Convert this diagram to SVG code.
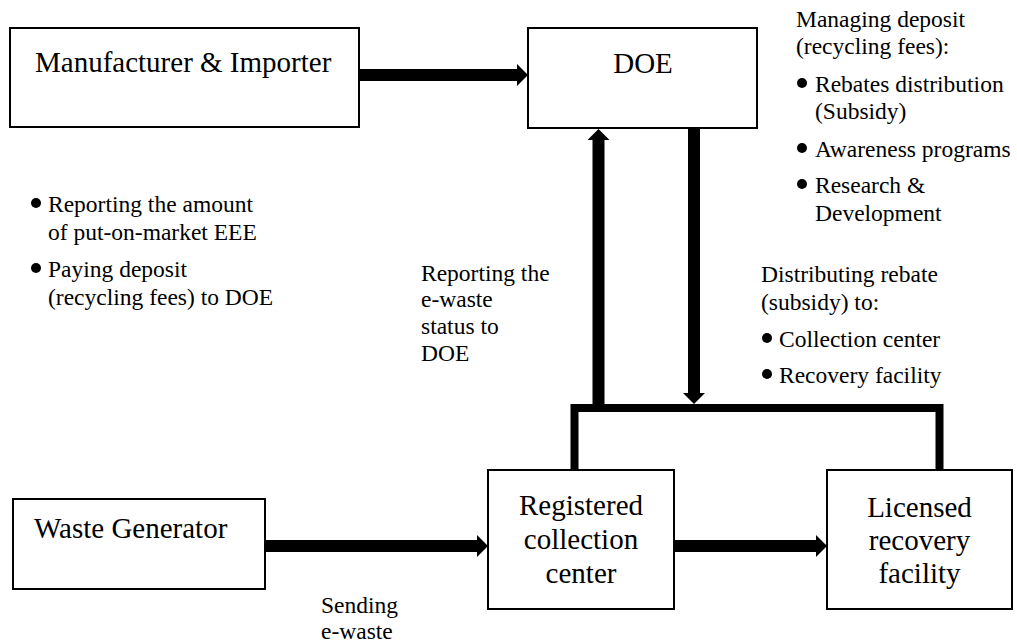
<svg xmlns="http://www.w3.org/2000/svg" width="1017" height="643" viewBox="0 0 1017 643">
<style>
.box{fill:#fff;stroke:#000;stroke-width:2}
.lbl{font-family:'Liberation Serif','DejaVu Serif',serif;font-size:29px;fill:#000}
.ann{font-family:'Liberation Serif','DejaVu Serif',serif;font-size:23.5px;fill:#000}
.arr{stroke:#000;stroke-width:12;fill:none;marker-end:url(#head)}
.ln{stroke:#000;fill:none}
.dot{fill:#000}
</style>
<defs>
<marker id="head" markerUnits="userSpaceOnUse" viewBox="0 0 11 22" refX="0" refY="11" markerWidth="11" markerHeight="22" orient="auto">
<path d="M0,0 L11,11 L0,22 Z" fill="#000"/>
</marker>
</defs>
<rect width="1017" height="643" fill="#fff"/>
<g id="connectors">
<line class="arr" x1="359" y1="75" x2="517" y2="75"/>
<line class="arr" x1="265" y1="546" x2="477" y2="546"/>
<line class="arr" x1="674" y1="546" x2="816" y2="546"/>
<line class="arr" x1="598.5" y1="408" x2="598.5" y2="140"/>
<line class="arr" x1="694" y1="129" x2="694" y2="393"/>
<path class="ln" d="M574.5,470 V408 H939.5 V470" stroke-width="8" stroke-linejoin="miter"/>
</g>
<g id="manufacturer">
<rect class="box" x="10" y="28" width="349" height="99"/>
<text class="lbl" x="35" y="72">Manufacturer &amp; Importer</text>
</g>
<g id="doe">
<rect class="box" x="528" y="28" width="229" height="100"/>
<text class="lbl" x="643" y="73" text-anchor="middle">DOE</text>
</g>
<g id="waste-generator">
<rect class="box" x="13" y="499" width="252" height="90"/>
<text class="lbl" x="34" y="538">Waste Generator</text>
</g>
<g id="collection-center">
<rect class="box" x="488" y="470" width="186" height="139"/>
<text class="lbl" x="581" y="515" text-anchor="middle">Registered</text>
<text class="lbl" x="581" y="549" text-anchor="middle">collection</text>
<text class="lbl" x="581" y="583" text-anchor="middle">center</text>
</g>
<g id="recovery-facility">
<rect class="box" x="827" y="470" width="185" height="139"/>
<text class="lbl" x="919.5" y="517" text-anchor="middle">Licensed</text>
<text class="lbl" x="919.5" y="550" text-anchor="middle">recovery</text>
<text class="lbl" x="919.5" y="583" text-anchor="middle">facility</text>
</g>
<g id="note-manufacturer">
<circle class="dot" cx="36" cy="203" r="5"/>
<text class="ann" x="48" y="212">Reporting the amount</text>
<text class="ann" x="48" y="240">of put-on-market EEE</text>
<circle class="dot" cx="36" cy="268" r="5"/>
<text class="ann" x="48" y="277">Paying deposit</text>
<text class="ann" x="48" y="305">(recycling fees) to DOE</text>
</g>
<g id="note-reporting">
<text class="ann" x="421" y="281">Reporting the</text>
<text class="ann" x="421" y="307">e-waste</text>
<text class="ann" x="421" y="334">status to</text>
<text class="ann" x="421" y="361">DOE</text>
</g>
<g id="note-doe">
<text class="ann" x="796" y="27">Managing deposit</text>
<text class="ann" x="796" y="54">(recycling fees):</text>
<circle class="dot" cx="802" cy="83" r="5"/>
<text class="ann" x="815" y="92">Rebates distribution</text>
<text class="ann" x="815" y="119">(Subsidy)</text>
<circle class="dot" cx="802" cy="148" r="5"/>
<text class="ann" x="815" y="157">Awareness programs</text>
<circle class="dot" cx="802" cy="184" r="5"/>
<text class="ann" x="815" y="193">Research &amp;</text>
<text class="ann" x="815" y="221">Development</text>
</g>
<g id="note-rebate">
<text class="ann" x="761" y="282">Distributing rebate</text>
<text class="ann" x="761" y="310">(subsidy) to:</text>
<circle class="dot" cx="767" cy="338" r="5"/>
<text class="ann" x="779" y="347">Collection center</text>
<circle class="dot" cx="767" cy="374" r="5"/>
<text class="ann" x="779" y="383">Recovery facility</text>
</g>
<g id="note-sending">
<text class="ann" x="321" y="613">Sending</text>
<text class="ann" x="321" y="639">e-waste</text>
</g>
</svg>
